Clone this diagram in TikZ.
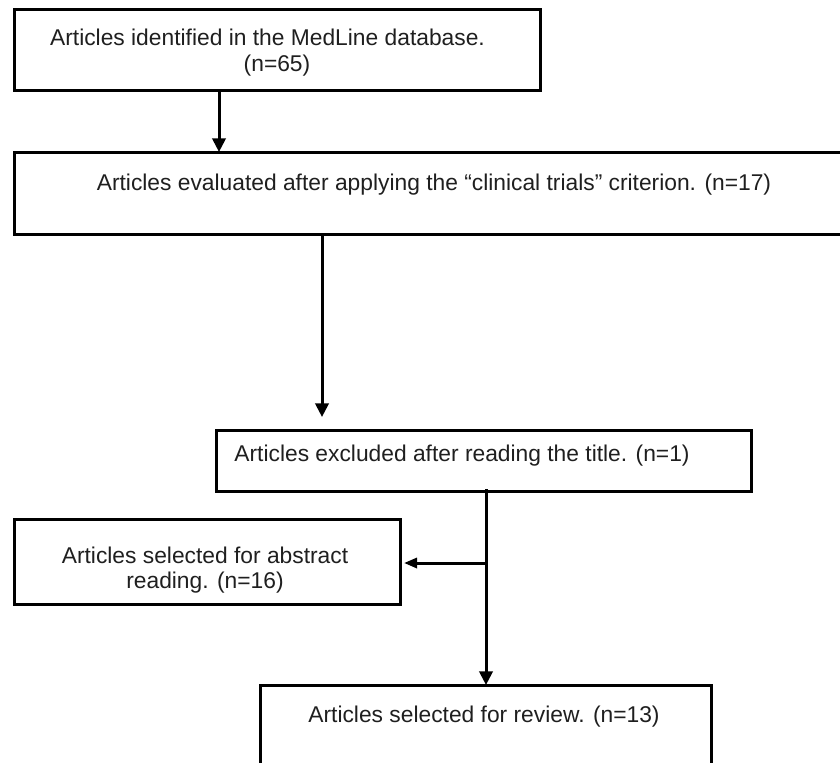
\documentclass[tikz,border=0pt]{standalone}
\usepackage{fontspec}
\setmainfont{Liberation Sans}
\usetikzlibrary{arrows.meta,calc}
\begin{document}
\begin{tikzpicture}[x=0.5pt,y=-0.5pt,
  box/.style={draw=black,line width=1.5pt,rectangle,inner sep=0pt,outer sep=0pt},
  txt/.style={inner sep=0pt,outer sep=0pt,anchor=base,text=black!88,font=\fontsize{11.4}{13.7}\selectfont},
  arr/.style={line width=1.5pt,-{Triangle[length=6.8pt,width=6.6pt]}},
  arrh/.style={line width=1.5pt,-{Triangle[length=6.5pt,width=5pt]}}]
\useasboundingbox (0,0) rectangle (840,762);
\clip (0,0) rectangle (840,762);
% boxes
\node[box,minimum width=263pt,minimum height=40.5pt] (b1) at (277,49.5) {};
\node[box,minimum width=420pt,minimum height=41pt] (b2) at (434,193) {};
\node[box,minimum width=267.5pt,minimum height=30.5pt] (b3) at (483.5,460.5) {};
\node[box,minimum width=193pt,minimum height=42.5pt] (b4) at (207,561.5) {};
\node[box,minimum width=225.5pt,minimum height=57.5pt] (b5) at (485.5,742.5) {};
% texts
\node[txt] (t1a) at (267.5,45) {Articles identified in the MedLine database.};
\node[txt] (t1b) at (277,71) {(n=65)};
\node[txt] (t2) at (434,190) {Articles evaluated after applying the “clinical trials” criterion. (n=17)};
\node[txt] (t3) at (462,461) {Articles excluded after reading the title. (n=1)};
\node[txt] (t4a) at (205,563) {Articles selected for abstract};
\node[txt] (t4b) at (205,588) {reading. (n=16)};
\node[txt] (t5) at (484,722) {Articles selected for review. (n=13)};
% connector coordinates
\coordinate (x1) at (219,0);
\coordinate (e2) at (322,417);
\coordinate (x3) at (486,0);
\coordinate (j) at (486,563);
\coordinate (e4) at (404,563);
% connectors
\draw[arr] (b1.south -| x1) -- (b2.north -| x1);
\draw[arr] (b2.south -| e2) -- (e2);
\draw[arr] ([yshift=1pt]b3.south -| x3) -- (b5.north -| x3);
\draw[arrh] (j) -- (e4);
\end{tikzpicture}
\end{document}
